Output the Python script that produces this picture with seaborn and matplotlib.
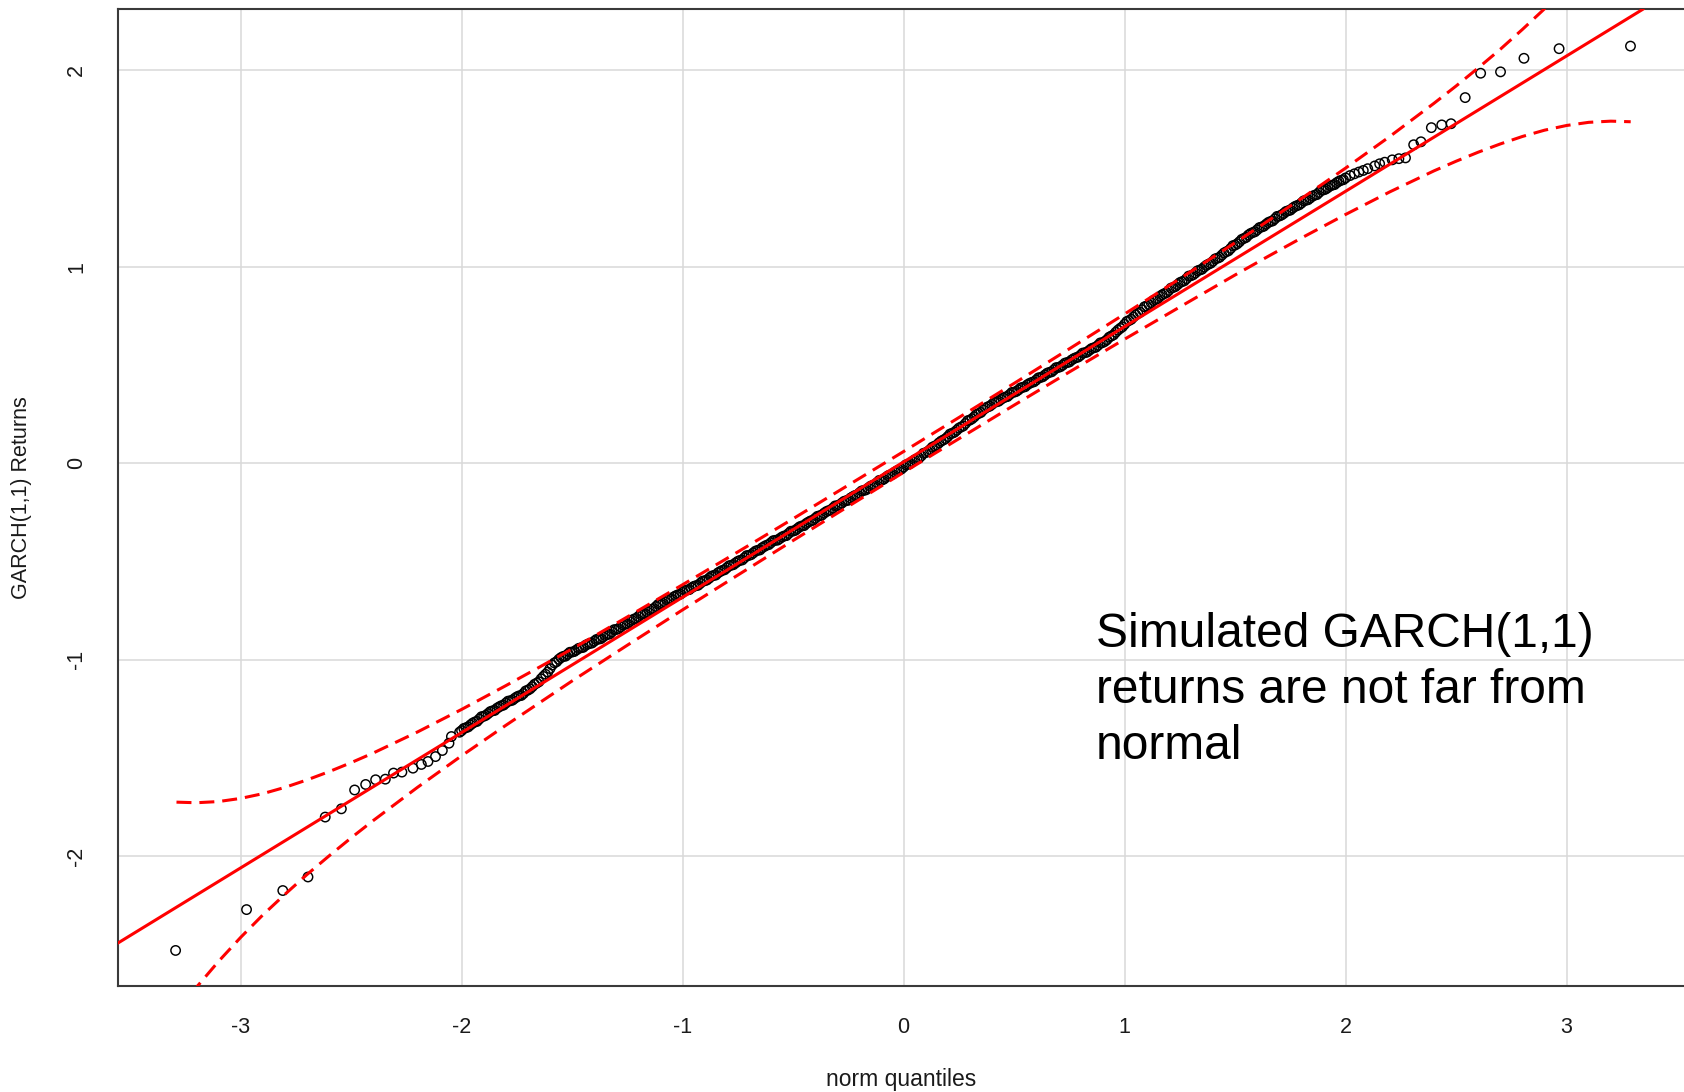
import matplotlib
matplotlib.use("Agg")
import matplotlib.pyplot as plt
import seaborn as sns
import pandas as pd

# ---------------- data ----------------
left_x = [-3.294, -2.973, -2.809, -2.695, -2.617, -2.544, -2.484, -2.434, -2.389, -2.345,
          -2.308, -2.270, -2.220, -2.182, -2.152, -2.118, -2.087, -2.057, -2.046, -2.009]
left_y = [-2.481, -2.273, -2.176, -2.107, -1.802, -1.760, -1.664, -1.636, -1.612, -1.609,
          -1.578, -1.573, -1.553, -1.534, -1.519, -1.494, -1.463, -1.426, -1.392, -1.370]

mid_x = [-2.00, -1.98, -1.96, -1.94, -1.92, -1.90, -1.88, -1.86, -1.84, -1.82,
         -1.80, -1.78, -1.76, -1.74, -1.72, -1.70, -1.68, -1.66, -1.64, -1.62,
         -1.60, -1.58, -1.56, -1.54, -1.52, -1.50, -1.48, -1.46, -1.44, -1.42,
         -1.40, -1.38, -1.36, -1.34, -1.32, -1.30, -1.28, -1.26, -1.24, -1.22,
         -1.20, -1.18, -1.16, -1.14, -1.12, -1.10, -1.08, -1.06, -1.04, -1.02,
         -1.00, -0.98, -0.96, -0.94, -0.92, -0.90, -0.88, -0.86, -0.84, -0.82,
         -0.80, -0.78, -0.76, -0.74, -0.72, -0.70, -0.68, -0.66, -0.64, -0.62,
         -0.60, -0.58, -0.56, -0.54, -0.52, -0.50, -0.48, -0.46, -0.44, -0.42,
         -0.40, -0.38, -0.36, -0.34, -0.32, -0.30, -0.28, -0.26, -0.24, -0.22,
         -0.20, -0.18, -0.16, -0.14, -0.12, -0.10, -0.08, -0.06, -0.04, -0.02,
         0.00,
         0.02, 0.04, 0.06, 0.08, 0.10, 0.12, 0.14, 0.16, 0.18, 0.20,
         0.22, 0.24, 0.26, 0.28, 0.30, 0.32, 0.34, 0.36, 0.38, 0.40,
         0.42, 0.44, 0.46, 0.48, 0.50, 0.52, 0.54, 0.56, 0.58, 0.60,
         0.62, 0.64, 0.66, 0.68, 0.70, 0.72, 0.74, 0.76, 0.78, 0.80,
         0.82, 0.84, 0.86, 0.88, 0.90, 0.92, 0.94, 0.96, 0.98, 1.00,
         1.02, 1.04, 1.06, 1.08, 1.10, 1.12, 1.14, 1.16, 1.18, 1.20,
         1.22, 1.24, 1.26, 1.28, 1.30, 1.32, 1.34, 1.36, 1.38, 1.40,
         1.42, 1.44, 1.46, 1.48, 1.50, 1.52, 1.54, 1.56, 1.58, 1.60,
         1.62, 1.64, 1.66, 1.68, 1.70, 1.72, 1.74, 1.76, 1.78, 1.80,
         1.82, 1.84, 1.86, 1.88, 1.90, 1.92, 1.94, 1.96, 1.98, 2.00]
mid_y = [-1.362, -1.347, -1.333, -1.318, -1.303, -1.289, -1.275, -1.261, -1.248, -1.235,
         -1.222, -1.210, -1.198, -1.185, -1.173, -1.156, -1.138, -1.120, -1.098, -1.075,
         -1.046, -1.017, -0.999, -0.984, -0.973, -0.962, -0.951, -0.940, -0.928, -0.918,
         -0.907, -0.896, -0.885, -0.872, -0.859, -0.847, -0.834, -0.820, -0.807, -0.794,
         -0.781, -0.768, -0.757, -0.744, -0.730, -0.718, -0.706, -0.693, -0.681, -0.670,
         -0.658, -0.646, -0.635, -0.624, -0.612, -0.599, -0.586, -0.572, -0.559, -0.546,
         -0.533, -0.520, -0.508, -0.495, -0.482, -0.470, -0.457, -0.444, -0.431, -0.418,
         -0.405, -0.393, -0.384, -0.371, -0.358, -0.346, -0.333, -0.320, -0.307, -0.294,
         -0.281, -0.268, -0.255, -0.242, -0.229, -0.217, -0.204, -0.191, -0.178, -0.165,
         -0.152, -0.139, -0.127, -0.113, -0.099, -0.087, -0.073, -0.060, -0.046, -0.034,
         -0.020,
         -0.006, 0.008, 0.022, 0.037, 0.053, 0.069, 0.086, 0.103, 0.118, 0.135,
         0.152, 0.167, 0.184, 0.202, 0.219, 0.236, 0.253, 0.271, 0.286, 0.299,
         0.312, 0.324, 0.336, 0.349, 0.361, 0.373, 0.386, 0.399, 0.411, 0.423,
         0.436, 0.449, 0.462, 0.475, 0.487, 0.499, 0.512, 0.525, 0.537, 0.549,
         0.562, 0.574, 0.587, 0.600, 0.613, 0.628, 0.647, 0.666, 0.686, 0.707,
         0.726, 0.744, 0.762, 0.781, 0.800, 0.817, 0.833, 0.849, 0.863, 0.879,
         0.894, 0.909, 0.924, 0.939, 0.954, 0.968, 0.983, 0.998, 1.013, 1.028,
         1.043, 1.059, 1.076, 1.093, 1.110, 1.127, 1.144, 1.161, 1.174, 1.188,
         1.202, 1.216, 1.230, 1.244, 1.258, 1.271, 1.285, 1.298, 1.311, 1.324,
         1.338, 1.350, 1.364, 1.378, 1.391, 1.403, 1.415, 1.428, 1.440, 1.452]

# the dense middle of the sample: further points between those above
dense_x = [-1.99, -1.97, -1.95, -1.93, -1.91, -1.89, -1.87, -1.85, -1.83, -1.81,
           -1.79, -1.77, -1.75, -1.73, -1.71, -1.69, -1.67, -1.65, -1.63, -1.61,
           -1.59, -1.57, -1.55, -1.53, -1.51, -1.49, -1.47, -1.45, -1.43, -1.41,
           -1.39, -1.37, -1.35, -1.33, -1.31, -1.29, -1.27, -1.25, -1.23, -1.21,
           -1.19, -1.17, -1.15, -1.13, -1.11, -1.09, -1.07, -1.05, -1.03, -1.01,
           -0.99, -0.97, -0.95, -0.93, -0.91, -0.89, -0.87, -0.85, -0.83, -0.81,
           -0.79, -0.77, -0.75, -0.73, -0.71, -0.69, -0.67, -0.65, -0.63, -0.61,
           -0.59, -0.57, -0.55, -0.53, -0.51, -0.49, -0.47, -0.45, -0.43, -0.41,
           -0.39, -0.37, -0.35, -0.33, -0.31, -0.29, -0.27, -0.25, -0.23, -0.21,
           -0.19, -0.17, -0.15, -0.13, -0.11, -0.09, -0.07, -0.05, -0.03, -0.01,
           0.01, 0.03, 0.05, 0.07, 0.09, 0.11, 0.13, 0.15, 0.17, 0.19,
           0.21, 0.23, 0.25, 0.27, 0.29, 0.31, 0.33, 0.35, 0.37, 0.39,
           0.41, 0.43, 0.45, 0.47, 0.49, 0.51, 0.53, 0.55, 0.57, 0.59,
           0.61, 0.63, 0.65, 0.67, 0.69, 0.71, 0.73, 0.75, 0.77, 0.79,
           0.81, 0.83, 0.85, 0.87, 0.89, 0.91, 0.93, 0.95, 0.97, 0.99,
           1.01, 1.03, 1.05, 1.07, 1.09, 1.11, 1.13, 1.15, 1.17, 1.19,
           1.21, 1.23, 1.25, 1.27, 1.29, 1.31, 1.33, 1.35, 1.37, 1.39,
           1.41, 1.43, 1.45, 1.47, 1.49, 1.51, 1.53, 1.55, 1.57, 1.59,
           1.61, 1.63, 1.65, 1.67, 1.69, 1.71, 1.73, 1.75, 1.77, 1.79,
           1.81, 1.83, 1.85, 1.87, 1.89, 1.91, 1.93, 1.95, 1.97, 1.99]
dense_y = [-1.351, -1.343, -1.324, -1.315, -1.291, -1.284, -1.265, -1.259, -1.241, -1.232,
           -1.212, -1.207, -1.190, -1.183, -1.160, -1.149, -1.126, -1.113, -1.086, -1.064,
           -1.028, -1.011, -0.990, -0.983, -0.963, -0.959, -0.943, -0.938, -0.922, -0.916,
           -0.898, -0.894, -0.877, -0.870, -0.848, -0.843, -0.824, -0.818, -0.800, -0.791,
           -0.771, -0.766, -0.749, -0.741, -0.719, -0.714, -0.697, -0.691, -0.675, -0.667,
           -0.648, -0.644, -0.628, -0.622, -0.601, -0.595, -0.576, -0.570, -0.552, -0.543,
           -0.523, -0.517, -0.500, -0.493, -0.471, -0.466, -0.448, -0.442, -0.424, -0.415,
           -0.395, -0.392, -0.376, -0.369, -0.347, -0.342, -0.324, -0.318, -0.300, -0.291,
           -0.271, -0.265, -0.247, -0.240, -0.218, -0.213, -0.195, -0.189, -0.171, -0.162,
           -0.142, -0.136, -0.118, -0.110, -0.088, -0.082, -0.064, -0.057, -0.039, -0.030,
           -0.009, -0.002, 0.017, 0.026, 0.050, 0.059, 0.081, 0.091, 0.112, 0.124,
           0.148, 0.157, 0.178, 0.189, 0.216, 0.226, 0.248, 0.258, 0.280, 0.290,
           0.310, 0.315, 0.332, 0.339, 0.360, 0.365, 0.383, 0.389, 0.406, 0.414,
           0.434, 0.440, 0.458, 0.465, 0.486, 0.491, 0.509, 0.515, 0.532, 0.540,
           0.560, 0.565, 0.583, 0.590, 0.612, 0.619, 0.641, 0.653, 0.677, 0.694,
           0.721, 0.732, 0.755, 0.768, 0.796, 0.807, 0.828, 0.837, 0.857, 0.868,
           0.891, 0.899, 0.919, 0.928, 0.952, 0.959, 0.979, 0.987, 1.007, 1.018,
           1.040, 1.048, 1.070, 1.081, 1.107, 1.117, 1.139, 1.149, 1.169, 1.178,
           1.199, 1.206, 1.225, 1.233, 1.256, 1.263, 1.281, 1.288, 1.306, 1.315,
           1.335, 1.341, 1.359, 1.367, 1.390, 1.395, 1.412, 1.418, 1.435, 1.443]

right_x = [2.020, 2.040, 2.060, 2.080, 2.100, 2.132, 2.154, 2.177, 2.211, 2.241, 2.271,
           2.308, 2.341, 2.388, 2.435, 2.477, 2.541, 2.611, 2.701, 2.807, 2.966, 3.289]
right_y = [1.464, 1.473, 1.482, 1.490, 1.499, 1.513, 1.524, 1.532, 1.544, 1.550, 1.554,
           1.621, 1.636, 1.708, 1.722, 1.728, 1.861, 1.985, 1.992, 2.061, 2.110, 2.123]

# reference line (through the quartiles)
line_intercept = 0.006
line_slope = 0.689

# pointwise confidence envelope
env_x = [-3.29, -3.2, -3.1, -3.0, -2.9, -2.8, -2.7, -2.6, -2.5, -2.4, -2.2, -2.0, -1.8,
         -1.65, -1.5, -1.25, -1.0, -0.75, -0.5, -0.25, 0.0, 0.25, 0.5, 0.75, 1.0, 1.25,
         1.5, 1.65, 1.8, 2.0, 2.2, 2.4, 2.5, 2.6, 2.7, 2.8, 2.9, 3.0, 3.1, 3.2, 3.29]
env_upper = [-1.726, -1.729, -1.723, -1.707, -1.683, -1.651, -1.613, -1.571, -1.525, -1.476,
             -1.369, -1.254, -1.133, -1.040, -0.946, -0.783, -0.619, -0.452, -0.283, -0.112,
             0.059, 0.232, 0.406, 0.582, 0.759, 0.939, 1.122, 1.234, 1.347, 1.502, 1.663,
             1.832, 1.920, 2.012, 2.107, 2.208, 2.313, 2.427, 2.549, 2.681, 2.808]
env_lower = [-2.795, -2.669, -2.537, -2.415, -2.301, -2.196, -2.095, -2.000, -1.908, -1.820,
             -1.651, -1.490, -1.335, -1.222, -1.109, -0.927, -0.747, -0.570, -0.394, -0.220,
             -0.047, 0.124, 0.295, 0.464, 0.631, 0.795, 0.958, 1.053, 1.146, 1.266, 1.381,
             1.488, 1.537, 1.583, 1.625, 1.663, 1.695, 1.719, 1.735, 1.741, 1.738]

x_ticks = [-3, -2, -1, 0, 1, 2, 3]
y_ticks = [-2, -1, 0, 1, 2]
x_label = "norm quantiles"
y_label = "GARCH(1,1) Returns"
note = "Simulated GARCH(1,1)\nreturns are not far from\nnormal"

# ---------------- style ----------------
sns.set_style("white")
plt.rcParams["font.family"] = ["Liberation Sans", "DejaVu Sans"]

fig = plt.figure(figsize=(16.84, 10.92), dpi=100)
ax = fig.add_axes([0.06989, 0.09707, 0.93337, 0.89469])

qq = pd.DataFrame({"x": left_x + mid_x + dense_x + right_x,
                   "y": left_y + mid_y + dense_y + right_y})

sns.scatterplot(data=qq, x="x", y="y", ax=ax, marker="o", s=46,
                color="black", facecolor="none", edgecolor="black",
                linewidth=1.05, zorder=3, legend=False)

ax.axline((0, line_intercept), slope=line_slope, color="#ff0000", lw=2.2, zorder=4)

env = pd.DataFrame({"x": env_x, "upper": env_upper, "lower": env_lower})
for col in ["upper", "lower"]:
    sns.lineplot(data=env, x="x", y=col, ax=ax, color="#ff0000", lw=2.2,
                 estimator=None, sort=False, zorder=4, legend=False)
    ax.lines[-1].set_dashes([4.9, 2.6])

ax.set_xlim(-3.556, 3.556)
ax.set_ylim(-2.662, 2.312)
ax.set_xticks(x_ticks)
ax.set_yticks(y_ticks)
ax.set_xticklabels([str(t) for t in x_ticks])
ax.set_yticklabels([str(t) for t in y_ticks])

ax.grid(True, color="#d9d9d9", lw=1.1)
ax.set_axisbelow(True)

for side in ["left", "bottom", "top", "right"]:
    ax.spines[side].set_color("#3a3a3a")
    ax.spines[side].set_linewidth(1.5)

ax.tick_params(axis="both", length=10, width=1.3, color="#3a3a3a",
               labelsize=15.5, pad=12, labelcolor="#1a1a1a")
ax.tick_params(axis="y", labelrotation=90)
for lab in ax.get_yticklabels():
    lab.set_va("center")

ax.set_xlabel(x_label, fontsize=16.5, color="#1a1a1a")
ax.set_ylabel(y_label, fontsize=15.5, color="#1a1a1a")
ax.xaxis.set_label_coords(0.4987, -0.0952)
ax.xaxis.label.set_va("center")
ax.yaxis.set_label_coords(-0.0615, 0.4995)
ax.yaxis.label.set_va("center")
ax.yaxis.label.set_ha("center")

fig.text(1096 / 1684, 1 - 612 / 1092, note, fontsize=34.5, color="black",
         ha="left", va="top", linespacing=1.31)

fig.savefig("out.png", dpi=100)
